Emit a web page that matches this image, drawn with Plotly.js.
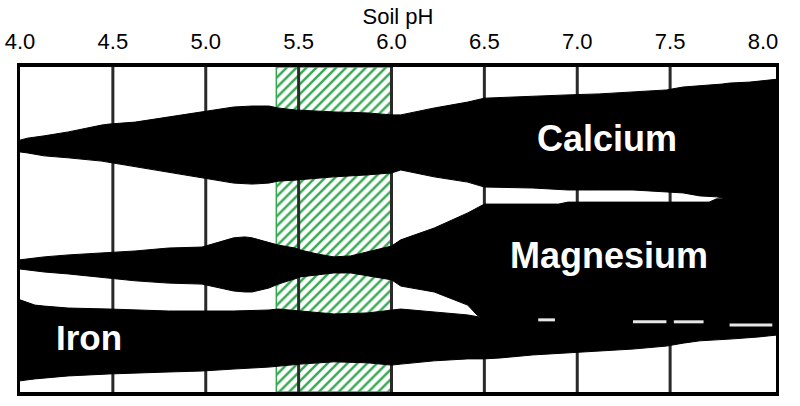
<!DOCTYPE html>
<html>
<head>
<meta charset="utf-8">
<script src="https://cdn.plot.ly/plotly-3.0.1.min.js"></script>
<style>html,body{margin:0;padding:0;background:#fff;}#chart{width:800px;height:406px;}</style>
</head>
<body>
<div id="chart"></div>
<script>
// ---- Data ----
const phTicks = [4.0, 4.5, 5.0, 5.5, 6.0, 6.5, 7.0, 7.5, 8.0];
const phTickText = ["4.0", "4.5", "5.0", "5.5", "6.0", "6.5", "7.0", "7.5", "8.0"];
const gridPH = [4.5, 5.0, 5.5, 6.0, 6.5, 7.0, 7.5];
const optimumRange = [5.38, 6.0];

// Relative availability (0 = bottom, 100 = top of chart)
const calciumPH     = [4.00, 4.04, 4.13, 4.26, 4.44, 4.48, 4.62, 4.80, 4.98, 5.15, 5.25, 5.34, 5.39, 5.48, 5.69, 5.87, 6.00, 6.05, 6.23, 6.41, 6.50, 6.76, 6.95, 7.12, 7.30, 7.48, 7.57, 7.66, 7.75, 7.78, 7.82, 7.93, 8.08];
const calciumTop    = [77.4, 78.0, 78.7, 79.9, 82.0, 82.3, 82.9, 84.5, 86.0, 87.5, 87.8, 87.8, 87.2, 86.6, 86.0, 85.7, 85.1, 85.1, 87.2, 89.0, 90.2, 90.9, 91.2, 91.5, 92.1, 92.7, 93.6, 93.9, 94.2, 94.5, 94.8, 95.1, 96.0];
const calciumBottom = [73.8, 73.5, 72.6, 72.0, 71.0, 70.4, 69.2, 67.4, 65.9, 64.3, 64.0, 64.3, 64.9, 65.2, 66.2, 66.8, 67.4, 68.3, 66.2, 64.6, 63.1, 62.8, 62.2, 62.2, 62.2, 61.6, 61.3, 60.4, 60.1, 59.8, 58.5, 58.5, 58.5];

const magnesiumPH     = [4.00, 4.13, 4.26, 4.48, 4.62, 4.80, 4.98, 5.15, 5.21, 5.25, 5.34, 5.39, 5.48, 5.51, 5.60, 5.69, 5.78, 5.87, 6.00, 6.05, 6.23, 6.41, 6.46, 6.50, 6.90, 6.95, 7.48, 7.71, 7.75, 7.78, 7.82, 8.08];
const magnesiumTop    = [40.9, 41.8, 42.4, 43.0, 43.6, 44.5, 44.8, 47.6, 47.9, 47.6, 46.3, 45.4, 44.5, 43.9, 42.7, 41.8, 42.1, 43.3, 45.1, 47.0, 50.6, 55.2, 56.7, 57.9, 57.9, 58.5, 58.5, 58.5, 59.5, 59.5, 60.4, 60.4];
const magnesiumBottom = [38.1, 37.2, 36.6, 35.4, 34.5, 33.8, 33.5, 31.4, 31.1, 31.1, 32.3, 33.5, 35.1, 35.7, 36.3, 36.9, 36.9, 36.0, 34.8, 32.9, 31.1, 27.1, 24.1, 22.6, 22.3, 22.3, 22.0, 21.6, 21.3, 21.0, 20.7, 20.4];

const ironPH     = [4.00, 4.08, 4.13, 4.26, 4.48, 4.62, 4.80, 4.98, 5.15, 5.34, 5.39, 5.51, 5.69, 5.87, 6.00, 6.05, 6.23, 6.41, 6.50, 6.59, 6.76, 6.95, 7.12, 7.30, 7.48, 7.57, 7.66, 7.84, 7.98, 8.08];
const ironTop    = [28.7, 27.1, 26.8, 26.2, 25.9, 25.6, 25.3, 25.3, 25.3, 25.6, 25.9, 25.3, 24.4, 24.7, 25.6, 25.9, 25.0, 24.1, 23.2, 23.2, 23.2, 22.9, 22.9, 22.9, 22.6, 22.6, 22.3, 22.0, 22.0, 21.6];
const ironBottom = [4.0, 4.6, 4.9, 5.5, 6.1, 6.4, 6.7, 7.0, 7.6, 8.2, 8.5, 9.1, 9.8, 9.5, 8.8, 9.1, 10.1, 10.7, 10.7, 11.0, 11.9, 12.5, 13.1, 13.7, 14.6, 15.5, 16.2, 16.8, 17.4, 18.0];

// thin white gaps between the Magnesium and Iron bands
const mgFeGapPH = [6.79, 6.88, null, 7.30, 7.48, null, 7.52, 7.68, null, 7.82, 8.05];
const mgFeGapY  = [22.6, 22.6, null, 22.0, 22.0, null, 22.0, 22.0, null, 21.0, 21.0];

const yRange = [0.6, 99.7];
const labelFont = "Liberation Sans, Arial, Helvetica, sans-serif";

// ---- Build traces ----
function band(ph, top, bottom) {
  return {
    x: ph.concat(ph.slice().reverse()),
    y: top.concat(bottom.slice().reverse()),
    type: "scatter", mode: "lines", fill: "toself",
    fillcolor: "#000000", line: {color: "#000000", width: 1},
    hoverinfo: "skip"
  };
}

const hatch = {
  x: [optimumRange[0], optimumRange[1], optimumRange[1], optimumRange[0], optimumRange[0]],
  y: [yRange[0], yRange[0], yRange[1], yRange[1], yRange[0]],
  type: "scatter", mode: "lines", fill: "toself",
  fillcolor: "#ffffff",
  fillpattern: {shape: "/", fgcolor: "#36a852", bgcolor: "#ffffff", size: 7, solidity: 0.35},
  line: {color: "#36a852", width: 1.5},
  hoverinfo: "skip"
};

const gx = [], gy = [];
gridPH.forEach(v => { gx.push(v, v, null); gy.push(yRange[0], yRange[1], null); });
const grid = {
  x: gx, y: gy, type: "scatter", mode: "lines",
  line: {color: "#2a2a2a", width: 3}, hoverinfo: "skip"
};

const gaps = {
  x: mgFeGapPH, y: mgFeGapY, type: "scatter", mode: "lines",
  line: {color: "#e6e6e6", width: 3}, hoverinfo: "skip", connectgaps: false
};

const data = [
  hatch, grid,
  band(calciumPH, calciumTop, calciumBottom),
  band(magnesiumPH, magnesiumTop, magnesiumBottom),
  band(ironPH, ironTop, ironBottom),
  gaps
];

const layout = {
  width: 800, height: 406,
  margin: {l: 20, r: 24, t: 67, b: 14, pad: 0},
  paper_bgcolor: "#ffffff", plot_bgcolor: "#ffffff",
  showlegend: false,
  font: {family: labelFont, color: "#000"},
  xaxis: {
    range: [4, 8.07], side: "top",
    tickmode: "array", tickvals: phTicks, ticktext: phTickText,
    ticks: "", ticklabelstandoff: 5,
    tickfont: {family: labelFont, size: 22, color: "#000"},
    showgrid: false, zeroline: false,
    showline: true, linecolor: "#000", linewidth: 4, mirror: true,
    title: {text: "Soil pH", font: {family: labelFont, size: 22, color: "#000"}, standoff: 0},
    fixedrange: true
  },
  yaxis: {
    range: yRange, showticklabels: false, ticks: "",
    showgrid: false, zeroline: false,
    showline: true, linecolor: "#000", linewidth: 3, mirror: true,
    fixedrange: true
  },
  annotations: [
    {x: 7.16, y: 77.9, text: "<b>Calcium</b>", showarrow: false, xanchor: "center", yanchor: "middle",
     font: {family: labelFont, size: 36, color: "#ffffff"}},
    {x: 7.17, y: 42.2, text: "<b>Magnesium</b>", showarrow: false, xanchor: "center", yanchor: "middle",
     font: {family: labelFont, size: 36, color: "#ffffff"}},
    {x: 4.37, y: 17.2, text: "<b>Iron</b>", showarrow: false, xanchor: "center", yanchor: "middle",
     font: {family: labelFont, size: 35, color: "#ffffff"}}
  ]
};

Plotly.newPlot("chart", data, layout, {staticPlot: true, displayModeBar: false});
</script>
</body>
</html>
